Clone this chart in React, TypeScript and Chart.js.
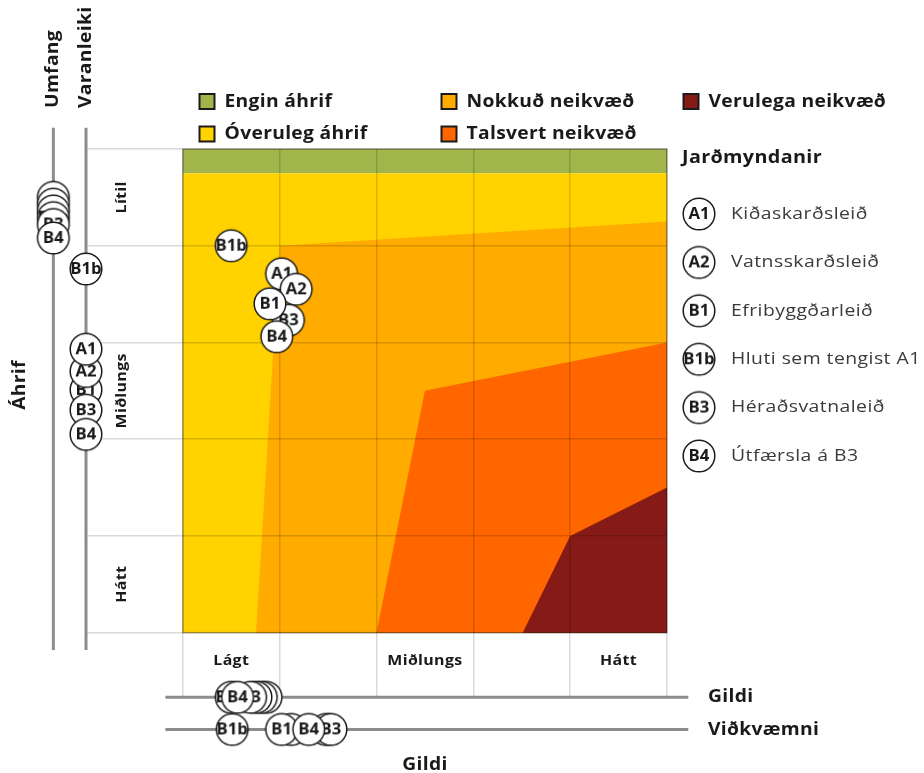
import React, { useEffect, useRef } from 'react';
import { Chart, registerables } from 'chart.js';

Chart.register(...registerables);

const FONT = '"Open Sans", "Noto Sans", sans-serif';

// ---- Impact levels (top legend / zone colours) ----
const levelLabels = ['Engin áhrif', 'Óveruleg áhrif', 'Nokkuð neikvæð', 'Talsvert neikvæð', 'Verulega neikvæð'];
const levelColors = ['#a2b54b', '#ffd200', '#ffab00', '#ff6600', '#861a17'];

// ---- Zone polygons in (Gildi, Áhrif) units, 0..5 ----
const zoneEngin: number[][] = [[0, 4.75], [5, 4.75], [5, 5], [0, 5]];
const zoneOveruleg: number[][] = [[0, 0], [5, 0], [5, 4.75], [0, 4.75]];
const zoneNokkud: number[][] = [[1.0, 4.0], [5, 4.25], [5, 0], [0.756, 0]];
const zoneTalsvert: number[][] = [[5, 0], [2.0, 0], [2.5, 2.5], [5, 3.0]];
const zoneVerulega: number[][] = [[5, 0], [3.51, 0], [4.0, 1.0], [5, 1.5]];

// ---- Routes ----
const routes = ['A1', 'A2', 'B1', 'B1b', 'B3', 'B4'];
const routeNames = ['Kiðaskarðsleið', 'Vatnsskarðsleið', 'Efribyggðarleið', 'Hluti sem tengist A1', 'Héraðsvatnaleið', 'Útfærsla á B3'];

// main matrix position (Gildi x, Áhrif y)
const impactGildi = [1.02, 1.17, 0.90, 0.50, 1.09, 0.97];
const impactAhrif = [3.71, 3.55, 3.40, 4.00, 3.23, 3.06];
// side scales
const umfang = [4.50, 4.43, 4.36, 4.29, 4.22, 4.08];
const varanleiki = [2.93, 2.70, 2.51, 3.76, 2.30, 2.05];
const gildi = [0.86, 0.81, 0.755, 0.50, 0.70, 0.565];
const vidkvaemni = [1.12, 1.48, 1.02, 0.51, 1.53, 1.30];

// drawing order (later = on top)
const orderImpact = [3, 0, 1, 4, 2, 5];
const orderUmfang = [0, 1, 2, 3, 4, 5];
const orderVaranleiki = [2, 1, 0, 4, 5, 3];
const orderGildi = [0, 1, 2, 4, 3, 5];
const orderVidk = [0, 2, 1, 4, 5, 3];

// ---- Axis categories ----
const gridTicks = [0, 1, 2, 3, 4, 5];
const rowLabels = ['Hátt', 'Miðlungs', 'Lítil'];
const rowAt = [0.5, 2.5, 4.5];
const colLabels = ['Lágt', 'Miðlungs', 'Hátt'];
const colAt = [0.5, 2.5, 4.5];

// ---- scale ranges & side-axis placement (in scale units) ----
const X_MIN = -1, X_MAX = 5, Y_MIN = -0.665, Y_MAX = 5;
const UMFANG_AT = -1.337;
const VARANLEIKI_AT = -1.0;
const GILDI_AT = -0.668;
const VIDK_AT = -1.0;
const SIDE_FROM = -0.18, SIDE_TO = 5.22;

function makeBadge(label: string): HTMLCanvasElement {
  const size = 36;
  const c = document.createElement('canvas');
  c.width = size;
  c.height = size;
  const g = c.getContext('2d')!;
  g.beginPath();
  g.arc(size / 2, size / 2, 15.8, 0, Math.PI * 2);
  g.fillStyle = '#ffffff';
  g.fill();
  g.lineWidth = 1.5;
  g.strokeStyle = '#1a1a1a';
  g.stroke();
  g.fillStyle = '#1a1a1a';
  g.font = `700 15.5px ${FONT}`;
  g.textAlign = 'center';
  g.textBaseline = 'middle';
  g.save();
  g.translate(size / 2, size / 2 + 0.5);
  g.scale(1.08, 1);
  g.fillText(label, 0, 0);
  g.restore();
  return c;
}

function txt(ctx: CanvasRenderingContext2D, s: string, x: number, y: number, font: string, color: string,
  align: CanvasTextAlign = 'left', rotate = false, sx = 1, spacing = '0.3px') {
  ctx.save();
  ctx.font = font;
  ctx.fillStyle = color;
  ctx.textAlign = align;
  ctx.textBaseline = 'middle';
  (ctx as any).letterSpacing = spacing;
  ctx.translate(x, y);
  if (rotate) ctx.rotate(-Math.PI / 2);
  ctx.scale(sx, 1);
  ctx.fillText(s, 0, 0);
  ctx.restore();
}

export default function App() {
  const ref = useRef<HTMLCanvasElement>(null);

  useEffect(() => {
    document.body.style.margin = '0';
    document.body.style.overflow = 'hidden';
    const canvas = ref.current!;
    const badges = routes.map((r) => makeBadge(r));

    const poly = (pts: number[][], color: string, order: number) => ({
      data: pts.map(([x, y]) => ({ x, y })),
      showLine: true,
      fill: 'shape',
      backgroundColor: color,
      borderWidth: 0,
      pointRadius: 0,
      tension: 0,
      order,
    });
    const axisLine = (pts: number[][], vertical: boolean) => ({
      data: pts.map(([x, y]) => ({ x, y })),
      showLine: true,
      fill: false,
      borderColor: '#8c8c8c',
      borderWidth: 3,
      pointRadius: 0,
      clip: false,
      order: 5,
      indexAxis: vertical ? 'y' : 'x',
    });
    const markers = (pts: { x: number; y: number }[], ord: number[], vertical: boolean) => ({
      data: pts,
      pointStyle: ord.map((i) => badges[i]),
      pointRadius: 44,
      clip: false,
      order: 0,
      indexAxis: vertical ? 'y' : 'x',
    });

    const decor = {
      id: 'decor',
      beforeDatasetsDraw(chart: any) {
        const { ctx } = chart;
        const xs = chart.scales.x, ys = chart.scales.y;
        const l = xs.getPixelForValue(0), r = xs.getPixelForValue(5);
        const t = ys.getPixelForValue(5), b = ys.getPixelForValue(0);
        ctx.save();
        ctx.strokeStyle = 'rgba(0,0,0,0.3)';
        ctx.lineWidth = 1.5;
        ctx.strokeRect(l, t, r - l, b - t);
        ctx.restore();
      },
      afterDraw(chart: any) {
        const { ctx } = chart;
        const xs = chart.scales.x, ys = chart.scales.y;
        const black = '#1a1a1a';
        const head = `700 18px ${FONT}`;
        const small = `700 14.5px ${FONT}`;
        const HS = 1.07; // horizontal stretch for headings
        const SS = 1.1;  // horizontal stretch for small labels

        // top legend (3 columns x 2 rows, column-major)
        const colX = [198.5, 440.5, 682.5];
        const rowY = [101.5, 134];
        levelLabels.forEach((lab, i) => {
          const cx = colX[Math.floor(i / 2)];
          const cy = rowY[i % 2];
          ctx.save();
          ctx.fillStyle = levelColors[i];
          ctx.fillRect(cx + 1, cy - 7.5, 15, 15);
          ctx.strokeStyle = black;
          ctx.lineWidth = 2;
          ctx.strokeRect(cx + 1, cy - 7.5, 15, 15);
          ctx.restore();
          txt(ctx, lab, cx + 26, cy, head, black, 'left', false, HS);
        });

        // right legend
        txt(ctx, 'Jarðmyndanir', 682, 158, head, black, 'left', false, 1.1);
        routes.forEach((r, i) => {
          const cy = 214 + i * 48.4;
          ctx.drawImage(badges[i], 699 - 18, cy - 18);
          txt(ctx, routeNames[i], 731, cy, `400 17px ${FONT}`, '#3a3a3a', 'left', false, 1.14, '0.4px');
        });

        // left titles
        txt(ctx, 'Áhrif', 20, 385, head, black, 'center', true, HS);
        txt(ctx, 'Umfang', xs.getPixelForValue(UMFANG_AT), 108, head, black, 'left', true, HS);
        txt(ctx, 'Varanleiki', xs.getPixelForValue(VARANLEIKI_AT), 108, head, black, 'left', true, HS);
        rowLabels.forEach((lab, i) => {
          txt(ctx, lab, 122, ys.getPixelForValue(rowAt[i]), small, black, 'center', true, SS);
        });

        // bottom labels
        colLabels.forEach((lab, i) => {
          txt(ctx, lab, xs.getPixelForValue(colAt[i]), 660.5, small, black, 'center', false, SS);
        });
        txt(ctx, 'Gildi', 708, ys.getPixelForValue(GILDI_AT), head, black, 'left', false, HS);
        txt(ctx, 'Viðkvæmni', 708, ys.getPixelForValue(VIDK_AT), head, black, 'left', false, HS);
        txt(ctx, 'Gildi', xs.getPixelForValue(2.5), 765, head, black, 'center', false, HS);
      },
    };

    const gridColor = 'rgba(0,0,0,0.15)';

    const chart = new Chart(canvas, {
      type: 'scatter',
      data: {
        datasets: [
          poly(zoneEngin, levelColors[0], 14),
          poly(zoneOveruleg, levelColors[1], 13),
          poly(zoneNokkud, levelColors[2], 12),
          poly(zoneTalsvert, levelColors[3], 11),
          poly(zoneVerulega, levelColors[4], 10),
          axisLine([[UMFANG_AT, SIDE_TO], [UMFANG_AT, SIDE_FROM]], true),
          axisLine([[VARANLEIKI_AT, SIDE_TO], [VARANLEIKI_AT, SIDE_FROM]], true),
          axisLine([[SIDE_FROM, GILDI_AT], [SIDE_TO, GILDI_AT]], false),
          axisLine([[SIDE_FROM, VIDK_AT], [SIDE_TO, VIDK_AT]], false),
          markers(orderUmfang.map((i) => ({ x: UMFANG_AT, y: umfang[i] })), orderUmfang, true),
          markers(orderVaranleiki.map((i) => ({ x: VARANLEIKI_AT, y: varanleiki[i] })), orderVaranleiki, true),
          markers(orderGildi.map((i) => ({ x: gildi[i], y: GILDI_AT })), orderGildi, false),
          markers(orderVidk.map((i) => ({ x: vidkvaemni[i], y: VIDK_AT })), orderVidk, false),
          markers(orderImpact.map((i) => ({ x: impactGildi[i], y: impactAhrif[i] })), orderImpact, false),
        ] as any,
      },
      options: {
        responsive: false,
        animation: false,
        events: [],
        devicePixelRatio: 1,
        layout: { padding: { left: 86, right: 257, top: 149, bottom: 76 } },
        plugins: {
          legend: { display: false },
          tooltip: { enabled: false },
          filler: { drawTime: 'beforeDraw' },
        } as any,
        scales: {
          x: {
            type: 'linear',
            min: X_MIN,
            max: X_MAX,
            afterBuildTicks: (s: any) => { s.ticks = gridTicks.map((v) => ({ value: v })); },
            ticks: { display: false },
            grid: { color: gridColor, lineWidth: 1.5, drawTicks: false },
            border: { display: false },
          },
          y: {
            type: 'linear',
            min: Y_MIN,
            max: Y_MAX,
            afterBuildTicks: (s: any) => { s.ticks = gridTicks.map((v) => ({ value: v })); },
            ticks: { display: false },
            grid: { color: gridColor, lineWidth: 1.5, drawTicks: false },
            border: { display: false },
          },
        },
      },
      plugins: [decor],
    } as any);

    return () => chart.destroy();
  }, []);

  return <canvas ref={ref} width={924} height={773} style={{ display: 'block' }} />;
}
